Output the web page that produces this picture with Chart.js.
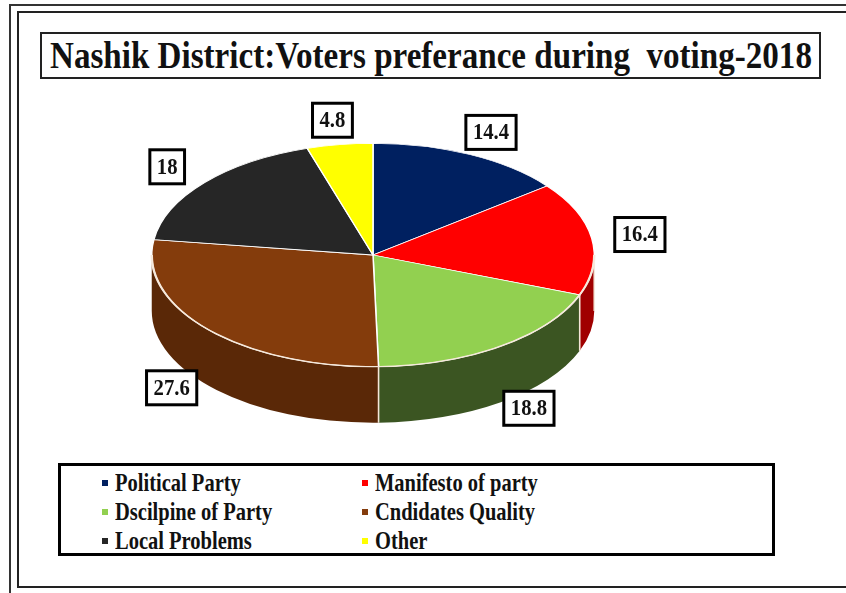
<!DOCTYPE html>
<html>
<head>
<meta charset="utf-8">
<script src="https://cdn.jsdelivr.net/npm/chart.js@4.4.1/dist/chart.umd.min.js"></script>
<style>
  html, body { margin: 0; padding: 0; background: #fff; }
  #page { position: relative; width: 846px; height: 593px; overflow: hidden; background: #fff; }
  #outer { position: absolute; left: 9px; top: 4px; width: 900px; height: 620px; border-top: 2px solid #333; border-left: 2px solid #333; }
  #inner { position: absolute; left: 17px; top: 11px; width: 900px; height: 573px; border: 2px solid #222; }
  #chart { position: absolute; left: 0; top: 0; }
  #title { position: absolute; left: 40px; top: 32px; width: 781px; height: 47px; box-sizing: border-box; border: 2px solid #222;
           display: flex; align-items: center; justify-content: center; background: #fff; }
  #title span { display: inline-block; white-space: pre; font: bold 37px 'Liberation Serif', 'Times New Roman', serif; line-height: 40px; color: #111; transform-origin: center; }
  #legend { position: absolute; left: 58px; top: 463px; width: 717px; height: 93px; box-sizing: border-box; border: 3px solid #000;
            display: grid; grid-template-columns: 260px 1fr; grid-auto-rows: 29px; padding: 2px 0 0 41px; background: #fff; }
  .item { display: flex; align-items: center; white-space: nowrap; }
  .mark { width: 6px; height: 6px; flex: none; }
  .txt { display: inline-block; margin-left: 7px; font: bold 25px 'Liberation Serif', 'Times New Roman', serif; line-height: 28px; color: #111; transform: scaleX(0.82); transform-origin: left center; }
</style>
</head>
<body>
<div id="page">
  <div id="outer"></div>
  <div id="inner"></div>
  <canvas id="chart" width="846" height="593"></canvas>
  <div id="title"><span id="title-text"></span></div>
  <div id="legend"></div>
</div>
<script>
const titleText = 'Nashik District:Voters preferance during  voting-2018';
const categories = ['Political Party', 'Manifesto of party', 'Dscilpine of Party', 'Cndidates Quality', 'Local Problems', 'Other'];
const values = [14.4, 16.4, 18.8, 27.6, 18, 4.8];
const topColors = ['#002060', '#ff0000', '#92d050', '#843c0c', '#262626', '#ffff00'];
const sideColors = ['#00143c', '#a00000', '#3b5522', '#5a2807', '#141414', '#a0a000'];

const TILT = 0.505;   // vertical squash of the pie
const DEPTH = 56;     // thickness of the pie on screen, px
const LABEL_FONT = "bold 23px 'Liberation Serif', 'Times New Roman', serif";

// squash the pie and draw the visible side band under it
const pie3d = {
  id: 'pie3d',
  beforeDatasetsDraw(chart) {
    const ctx = chart.ctx;
    const arcs = chart.getDatasetMeta(0).data;
    const cx = arcs[0].x, cy = arcs[0].y;
    const d = DEPTH / TILT;
    ctx.save();
    ctx.translate(cx, cy);
    ctx.scale(1, TILT);
    ctx.translate(-cx, -cy);
    arcs.forEach((arc, i) => {
      const p = arc.getProps(['x', 'y', 'startAngle', 'endAngle', 'outerRadius']);
      const a0 = Math.max(p.startAngle, 0);
      const a1 = Math.min(p.endAngle, Math.PI);
      if (a1 <= a0) return;
      const r = p.outerRadius;
      ctx.beginPath();
      ctx.arc(p.x, p.y, r, a0, a1);
      ctx.lineTo(p.x + r * Math.cos(a1), p.y + r * Math.sin(a1) + d);
      ctx.arc(p.x, p.y + d, r, a1, a0, true);
      ctx.closePath();
      ctx.fillStyle = sideColors[i];
      ctx.fill();
      ctx.lineWidth = 1.6;
      ctx.strokeStyle = '#f4e6d8';
      ctx.beginPath();
      ctx.moveTo(p.x + r * Math.cos(a0), p.y + r * Math.sin(a0));
      ctx.lineTo(p.x + r * Math.cos(a0), p.y + r * Math.sin(a0) + d);
      ctx.stroke();
    });
  },
  afterDatasetsDraw(chart) {
    const ctx = chart.ctx;
    const arc = chart.getDatasetMeta(0).data[0];
    // light rim between the top and the side
    ctx.beginPath();
    ctx.arc(arc.x, arc.y, arc.outerRadius, 0, Math.PI);
    ctx.lineWidth = 2.4;
    ctx.strokeStyle = '#f6e9dc';
    ctx.stroke();
    ctx.restore();
  },
  afterDraw(chart) {
    const ctx = chart.ctx;
    const arcs = chart.getDatasetMeta(0).data;
    ctx.save();
    ctx.font = LABEL_FONT;
    ctx.textAlign = 'center';
    ctx.textBaseline = 'middle';
    arcs.forEach((arc, i) => {
      const p = arc.getProps(['x', 'y', 'startAngle', 'endAngle', 'outerRadius']);
      const mid = (p.startAngle + p.endAngle) / 2;
      const r = p.outerRadius;
      const s = Math.sin(mid);
      const x = p.x + r * 1.22 * Math.cos(mid);
      const y = p.y + r * TILT * 1.22 * s + (s > 0 ? DEPTH * 0.75 : 0);
      const label = String(values[i]);
      const w = ctx.measureText(label).width * 0.9 + 14;
      const h = 34;
      ctx.fillStyle = '#fff';
      ctx.fillRect(x - w / 2, y - h / 2, w, h);
      ctx.lineWidth = 3;
      ctx.strokeStyle = '#000';
      ctx.strokeRect(x - w / 2, y - h / 2, w, h);
      ctx.fillStyle = '#111';
      ctx.save();
      ctx.translate(x, y + 1);
      ctx.scale(0.9, 1);
      ctx.fillText(label, 0, 0);
      ctx.restore();
    });
    ctx.restore();
  }
};

function drawChart() {
  new Chart(document.getElementById('chart'), {
    type: 'pie',
    data: {
      labels: categories,
      datasets: [{
        data: values,
        backgroundColor: topColors,
        borderColor: '#ffffff',
        borderWidth: 1.5,
        clip: false
      }]
    },
    options: {
      responsive: false,
      animation: false,
      layout: { padding: { left: 151, right: 251, top: 33, bottom: 116 } },
      plugins: {
        legend: { display: false },
        title: { display: false },
        tooltip: { enabled: false }
      }
    },
    plugins: [pie3d]
  });
}

// title and legend as html text
const titleSpan = document.getElementById('title-text');
titleSpan.textContent = titleText;
const legendBox = document.getElementById('legend');
categories.forEach((name, i) => {
  const item = document.createElement('div');
  item.className = 'item';
  item.innerHTML = '<span class="mark" style="background:' + topColors[i] + '"></span><span class="txt"></span>';
  item.querySelector('.txt').textContent = name;
  legendBox.appendChild(item);
});

document.fonts.load(LABEL_FONT).then(() => document.fonts.ready).then(() => {
  const w = titleSpan.offsetWidth;
  titleSpan.style.transform = 'scaleX(' + (762 / w) + ')';
  drawChart();
});
</script>
</body>
</html>
